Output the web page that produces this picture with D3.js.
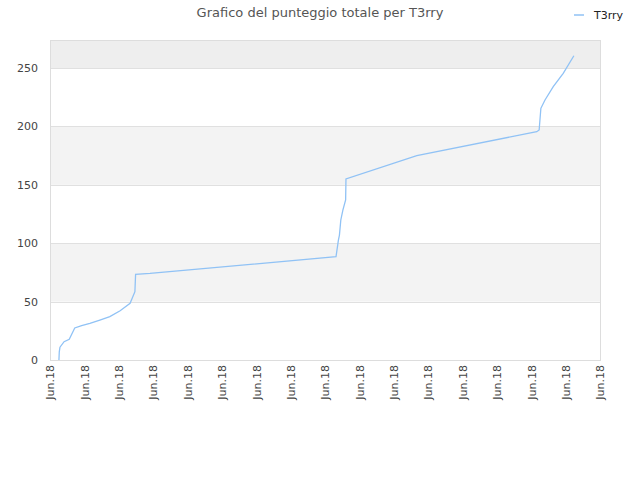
<!DOCTYPE html>
<html>
<head>
<meta charset="utf-8">
<script src="https://cdn.jsdelivr.net/npm/d3@7"></script>
<style>
    body { margin: 0; background: #fff; }
    svg { font-family: "DejaVu Sans", sans-serif; }
</style>
</head>
<body>
<div id="chart"></div>
<script>
// x position in tick units (0..16), y = total score
const tickLabels = ["Jun.18", "Jun.18", "Jun.18", "Jun.18", "Jun.18", "Jun.18", "Jun.18", "Jun.18", "Jun.18",
    "Jun.18", "Jun.18", "Jun.18", "Jun.18", "Jun.18", "Jun.18", "Jun.18", "Jun.18"];
const pointX = [0.26, 0.27, 0.29, 0.41, 0.56, 0.72, 0.92, 1.16, 1.45, 1.74, 2.04, 2.33, 2.47, 2.49, 2.91,
    8.32, 8.39, 8.42, 8.46, 8.52, 8.6, 8.61, 10.67, 14.16, 14.23, 14.28, 14.4, 14.64, 14.93, 15.24];
const pointY = [0, 7, 11, 15.7, 17.7, 27.4, 29.4, 31.4, 34.2, 37.1, 42.2, 48.5, 58.5, 73.4, 74.2,
    88.4, 102.7, 107, 119.9, 128.4, 137, 155, 175, 195.5, 197, 215.5, 222.6, 234, 245.5, 260.5];
const yTicks = [0, 50, 100, 150, 200, 250];
const seriesName = "T3rry";
const chartTitle = "Grafico del punteggio totale per T3rry";

const margin = { top: 40, right: 40, bottom: 120, left: 50 };
const width = 640 - margin.left - margin.right;
const height = 480 - margin.top - margin.bottom;

const svg = d3.select("#chart").append("svg")
    .attr("width", 640)
    .attr("height", 480);

const g = svg.append("g")
    .attr("transform", `translate(${margin.left}, ${margin.top})`);

const xScale = d3.scaleLinear().domain([0, tickLabels.length - 1]).range([0, width]);
const yScale = d3.scaleLinear().domain([0, 274]).range([height, 0]);

// alternating bands
const bands = yTicks.map((t, i) => ({ lo: t, hi: i + 1 < yTicks.length ? yTicks[i + 1] : yScale.domain()[1], i }));
g.selectAll(".band")
    .data(bands)
    .enter().append("rect")
    .attr("class", "band")
    .attr("x", 0)
    .attr("width", width)
    .attr("y", d => yScale(d.hi))
    .attr("height", d => yScale(d.lo) - yScale(d.hi))
    .attr("fill", d => d.i === yTicks.length - 1 ? "#eeeeee" : (d.i % 2 === 1 ? "#f3f3f3" : "#ffffff"));

// grid lines
g.selectAll(".grid")
    .data(yTicks.slice(1))
    .enter().append("line")
    .attr("class", "grid")
    .attr("x1", 0).attr("x2", width)
    .attr("y1", d => Math.round(yScale(d)) + 0.5)
    .attr("y2", d => Math.round(yScale(d)) + 0.5)
    .attr("stroke", "#e0e0e0");

// frame
g.append("rect")
    .attr("x", 0.5).attr("y", 0.5)
    .attr("width", width).attr("height", height)
    .attr("fill", "none")
    .attr("stroke", "#dddddd");

const yAxis = d3.axisLeft(yScale).tickValues(yTicks).tickSize(0).tickPadding(12);
const yAxisGroup = g.append("g").call(yAxis);
yAxisGroup.select(".domain").remove();
yAxisGroup.selectAll("text")
    .attr("fill", "#444")
    .style("font-size", "11px")
    .style("font-family", "DejaVu Sans, sans-serif");

const xAxis = d3.axisBottom(xScale)
    .tickValues(d3.range(tickLabels.length))
    .tickFormat(i => tickLabels[i])
    .tickSize(0);
const xAxisGroup = g.append("g")
    .attr("transform", `translate(0, ${height})`)
    .call(xAxis);
xAxisGroup.select(".domain").remove();
xAxisGroup.selectAll("text")
    .attr("fill", "#444")
    .style("font-size", "11px")
    .style("font-family", "DejaVu Sans, sans-serif")
    .attr("transform", "rotate(-90)")
    .attr("text-anchor", "end")
    .attr("x", -5)
    .attr("y", 0)
    .attr("dy", "0.35em");

const points = pointX.map((x, i) => ({ x, y: pointY[i] }));
const line = d3.line().x(d => xScale(d.x)).y(d => yScale(d.y));
g.append("path")
    .datum(points)
    .attr("d", line)
    .attr("fill", "none")
    .attr("stroke", "#90c2f5")
    .attr("stroke-width", 1.3);

svg.append("text")
    .attr("x", 320)
    .attr("y", 17)
    .attr("text-anchor", "middle")
    .attr("fill", "#555")
    .style("font-size", "13px")
    .text(chartTitle);

const legend = svg.append("g").attr("transform", "translate(574, 15)");
legend.append("line")
    .attr("x1", 0).attr("x2", 10)
    .attr("stroke", "#90c2f5")
    .attr("stroke-width", 1.5);
legend.append("text")
    .attr("x", 20).attr("y", 4)
    .attr("fill", "#222")
    .style("font-size", "11px")
    .text(seriesName);
</script>
</body>
</html>
